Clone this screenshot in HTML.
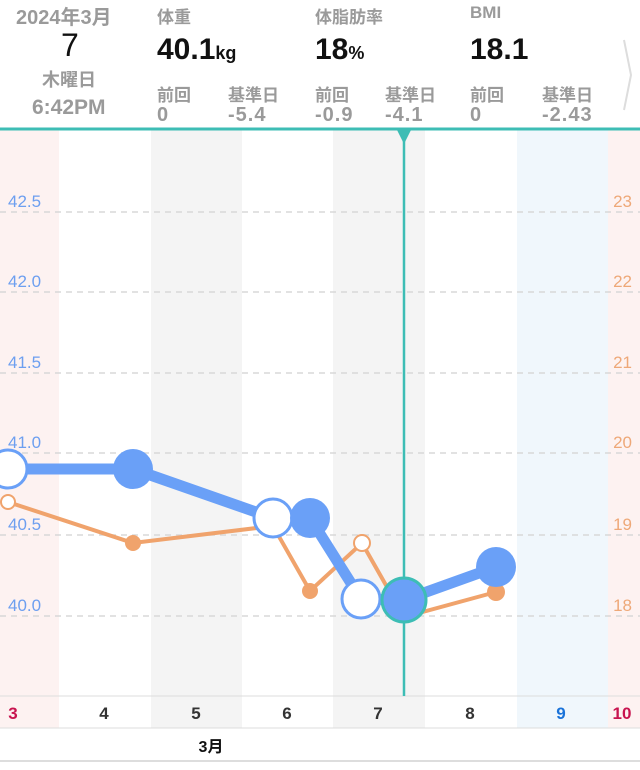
<!DOCTYPE html>
<html><head><meta charset="utf-8"><style>
body{margin:0;width:640px;height:770px;background:#fff;overflow:hidden;font-family:"Liberation Sans","Noto Sans CJK JP",sans-serif;}
.t{position:absolute;white-space:nowrap;}
.g{color:#9a9a9a;font-weight:bold;font-size:16px;}
.v{font-size:20px;letter-spacing:1px;}
</style></head><body>
<div style="position:relative;width:640px;height:770px;">
<div class="t g" style="left:16px;top:1px;font-size:20px;">2024年3月</div>
<div class="t" style="left:61px;top:27px;font-size:32px;color:#111;">7</div>
<div class="t g" style="left:42px;top:66px;font-size:18px;">木曜日</div>
<div class="t g" style="left:32px;top:96px;font-size:21px;">6:42PM</div>

<div class="t g" style="left:157px;top:3px;font-size:17px;">体重</div>
<div class="t" style="left:157px;top:33px;font-size:30px;font-weight:bold;color:#111;">40.1<span style="font-size:18px">kg</span></div>
<div class="t g" style="left:315px;top:3px;font-size:17px;">体脂肪率</div>
<div class="t" style="left:315px;top:33px;font-size:30px;font-weight:bold;color:#111;">18<span style="font-size:18px">%</span></div>
<div class="t g" style="left:470px;top:3px;font-size:17px;">BMI</div>
<div class="t" style="left:470px;top:33px;font-size:30px;font-weight:bold;color:#111;">18.1</div>

<div class="t g" style="left:157px;top:81px;font-size:17px;">前回</div><div class="t g" style="left:228px;top:81px;font-size:17px;">基準日</div>
<div class="t g" style="left:315px;top:81px;font-size:17px;">前回</div><div class="t g" style="left:385px;top:81px;font-size:17px;">基準日</div>
<div class="t g" style="left:470px;top:81px;font-size:17px;">前回</div><div class="t g" style="left:542px;top:81px;font-size:17px;">基準日</div>
<div class="t g v" style="left:157px;top:104px;">0</div><div class="t g v" style="left:228px;top:104px;">-5.4</div>
<div class="t g v" style="left:315px;top:104px;">-0.9</div><div class="t g v" style="left:385px;top:104px;">-4.1</div>
<div class="t g v" style="left:470px;top:104px;">0</div><div class="t g v" style="left:542px;top:104px;">-2.43</div>

<svg style="position:absolute;left:0;top:0" width="640" height="770">
<polyline points="624,40 631,75 624,110" fill="none" stroke="#ddd" stroke-width="2"/>
<rect x="0" y="130" width="59" height="598" fill="#fdf2f1"/>
<rect x="151" y="130" width="91" height="598" fill="#f4f4f4"/>
<rect x="333" y="130" width="92" height="598" fill="#f4f4f4"/>
<rect x="517" y="130" width="91" height="598" fill="#f0f7fc"/>
<rect x="608" y="130" width="32" height="598" fill="#fdf2f1"/>
<g stroke="#d8d8d8" stroke-width="1.5" stroke-dasharray="6,5">
<line x1="0" y1="212" x2="640" y2="212"/><line x1="0" y1="292" x2="640" y2="292"/>
<line x1="0" y1="373" x2="640" y2="373"/><line x1="0" y1="453" x2="640" y2="453"/>
<line x1="0" y1="535" x2="640" y2="535"/><line x1="0" y1="616" x2="640" y2="616"/>
</g>
<g fill="#6d9ff0" font-size="17" font-family="Liberation Sans,sans-serif">
<text x="8" y="207">42.5</text><text x="8" y="287">42.0</text><text x="8" y="368">41.5</text>
<text x="8" y="448">41.0</text><text x="8" y="530">40.5</text><text x="8" y="611">40.0</text>
</g>
<g fill="#eea878" font-size="17" font-family="Liberation Sans,sans-serif" text-anchor="end">
<text x="632" y="207">23</text><text x="632" y="287">22</text><text x="632" y="368">21</text>
<text x="632" y="448">20</text><text x="632" y="530">19</text><text x="632" y="611">18</text>
</g>
<line x1="0" y1="696" x2="640" y2="696" stroke="#ddd"/>
<rect x="0" y="728" width="640" height="34" fill="#fff"/>
<line x1="0" y1="728" x2="640" y2="728" stroke="#ddd"/>
<line x1="0" y1="761" x2="640" y2="761" stroke="#ddd" stroke-width="2"/>
<g font-size="17" font-weight="bold" text-anchor="middle" fill="#333" font-family="Liberation Sans,sans-serif">
<text x="13" y="719" fill="#c8144f">3</text><text x="104" y="719">4</text><text x="196" y="719">5</text>
<text x="287" y="719">6</text><text x="378" y="719">7</text><text x="470" y="719">8</text>
<text x="561" y="719" fill="#1a73d9">9</text><text x="622" y="719" fill="#c8144f">10</text>
</g>
<text x="211" y="752" font-size="16" font-weight="bold" text-anchor="middle" fill="#111" font-family="Liberation Sans,Noto Sans CJK JP,sans-serif">3月</text>
<line x1="0" y1="129" x2="640" y2="129" stroke="#3dbdb5" stroke-width="3"/>
<line x1="404" y1="130" x2="404" y2="696" stroke="#3dbdb5" stroke-width="2.5"/>
<polygon points="397,130 411,130 404,144" fill="#3dbdb5"/>
<polyline points="8,502 133,543 273,526 310,591 362,543 404,617 496,592" fill="none" stroke="#f0a36c" stroke-width="4"/>
<circle cx="8" cy="502" r="7" fill="#fff" stroke="#f0a36c" stroke-width="2"/>
<circle cx="133" cy="543" r="8" fill="#f0a36c"/>
<circle cx="310" cy="591" r="8" fill="#f0a36c"/>
<circle cx="362" cy="543" r="8" fill="#fff" stroke="#f0a36c" stroke-width="2"/>
<circle cx="404" cy="615" r="8" fill="#f0a36c"/>
<circle cx="496" cy="592" r="9" fill="#f0a36c"/>
<polyline points="8,469 133,469 273,518 310,518 361,599 404,600 496,567" fill="none" stroke="#6aa0f7" stroke-width="11" stroke-linejoin="round"/>
<circle cx="8" cy="469" r="19" fill="#fff" stroke="#6aa0f7" stroke-width="3"/>
<circle cx="133" cy="469" r="20" fill="#6aa0f7"/>
<circle cx="273" cy="518" r="19" fill="#fff" stroke="#6aa0f7" stroke-width="3"/>
<circle cx="310" cy="518" r="20" fill="#6aa0f7"/>
<circle cx="361" cy="599" r="19" fill="#fff" stroke="#6aa0f7" stroke-width="3"/>
<circle cx="404" cy="600" r="22" fill="#6aa0f7" stroke="#3dbdb5" stroke-width="3"/>
<circle cx="496" cy="567" r="20" fill="#6aa0f7"/>
</svg>
</div>
</body></html>
